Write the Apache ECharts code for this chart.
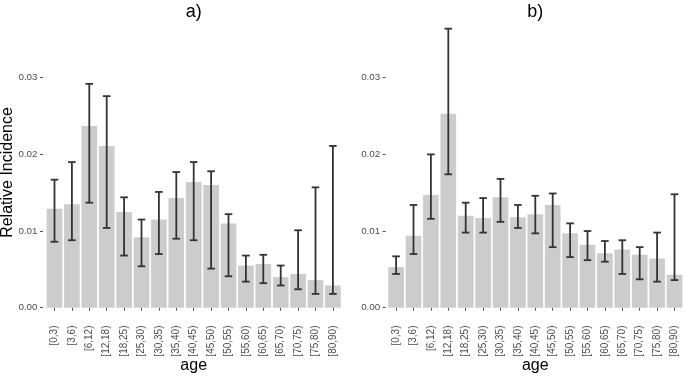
<!DOCTYPE html>
<html><head><meta charset="utf-8">
<script src="https://cdn.jsdelivr.net/npm/echarts@6/dist/echarts.min.js"></script>
<style>html,body{margin:0;padding:0;background:#fff}#c{width:685px;height:378px}</style>
</head><body><div id="c"></div>
<script>
const categories = ['[0,3)','[3,6)','[6,12)','[12,18)','[18,25)','[25,30)','[30,35)','[35,40)','[40,45)','[45,50)','[50,55)','[55,60)','[60,65)','[65,70)','[70,75)','[75,80)','[80,90)'];
const incidenceA = [0.0129,0.0135,0.0237,0.0211,0.0125,0.0092,0.0115,0.0143,0.0164,0.0160,0.0110,0.0055,0.0057,0.0040,0.0044,0.0036,0.0029];
const lowerA = [0.0086,0.0088,0.0137,0.0104,0.0068,0.0054,0.0070,0.0090,0.0088,0.0051,0.0041,0.0034,0.0032,0.0029,0.0024,0.0018,0.0018];
const upperA = [0.0167,0.0190,0.0292,0.0276,0.0144,0.0115,0.0151,0.0177,0.0190,0.0178,0.0122,0.0068,0.0069,0.0055,0.0101,0.0157,0.0211];
const incidenceB = [0.0053,0.0094,0.0147,0.0253,0.0120,0.0117,0.0144,0.0118,0.0122,0.0134,0.0097,0.0082,0.0071,0.0076,0.0069,0.0064,0.0043];
const lowerB = [0.0044,0.0070,0.0116,0.0174,0.0098,0.0098,0.0112,0.0104,0.0097,0.0079,0.0066,0.0062,0.0060,0.0044,0.0037,0.0034,0.0036];
const upperB = [0.0067,0.0134,0.0200,0.0364,0.0137,0.0143,0.0168,0.0134,0.0146,0.0149,0.0110,0.0100,0.0087,0.0088,0.0079,0.0098,0.0148];
const yTicks = [0, 0.01, 0.02, 0.03];
const panelTitles = ['a)', 'b)'];
const xTitle = 'age';
const yTitle = 'Relative Incidence';

const FONT = "'Liberation Sans', Arial, sans-serif";
const chart = echarts.init(document.getElementById('c'), null, {renderer: 'canvas'});

function errorItem(params, api) {
  const x = api.value(0);
  const lo = api.coord([x, api.value(1)]);
  const hi = api.coord([x, api.value(2)]);
  const half = 3.8;
  const style = {stroke: '#333333', lineWidth: 1.8};
  return {type: 'group', children: [
    {type: 'line', shape: {x1: hi[0], y1: hi[1], x2: lo[0], y2: lo[1]}, style: style},
    {type: 'line', shape: {x1: hi[0] - half, y1: hi[1], x2: hi[0] + half, y2: hi[1]}, style: style},
    {type: 'line', shape: {x1: lo[0] - half, y1: lo[1], x2: lo[0] + half, y2: lo[1]}, style: style}
  ]};
}

const grids = [
  {left: 45.8, top: 16.4, width: 295.8, height: 291.3, containLabel: false, outerBoundsMode: 'none'},
  {left: 387.4, top: 16.4, width: 295.8, height: 291.3, containLabel: false, outerBoundsMode: 'none'}
];
const yOffsets = [2.8, 1.7];

function xAxisFor(i) {
  return {
    type: 'category', gridIndex: i, data: categories, offset: 12.8,
    axisLine: {show: false},
    axisTick: {show: true, alignWithLabel: true, length: 3, lineStyle: {color: '#4d4d4d', width: 1}},
    axisLabel: {rotate: 90, margin: 5, fontSize: 10, color: '#4d4d4d', fontFamily: FONT, interval: 0}
  };
}
function yAxisFor(i) {
  return {
    type: 'value', gridIndex: i, min: 0, max: 0.038, offset: yOffsets[i],
    axisLine: {show: false},
    splitLine: {show: false},
    axisTick: {show: true, length: 3, customValues: yTicks, lineStyle: {color: '#4d4d4d', width: 1}},
    axisLabel: {customValues: yTicks, margin: 5.5, fontSize: 9.8, color: '#4d4d4d', fontFamily: FONT,
      formatter: v => Number(v).toFixed(2)}
  };
}

function barSeries(i, vals) {
  return {type: 'bar', xAxisIndex: i, yAxisIndex: i, data: vals, barWidth: '90%',
    itemStyle: {color: '#cccccc'}, silent: true};
}
function errSeries(i, lo, hi) {
  return {type: 'custom', xAxisIndex: i, yAxisIndex: i, renderItem: errorItem, clip: false,
    encode: {x: 0, y: [1, 2]}, silent: true, z: 5,
    data: categories.map((c, k) => [k, lo[k], hi[k]])};
}

function txt(x, y, s, size, rot) {
  const o = {type: 'text', x: x, y: y, style: {text: s, font: size + 'px ' + FONT, fill: '#000', textAlign: 'center', textVerticalAlign: 'middle'}};
  if (rot) o.rotation = rot;
  return o;
}

chart.setOption({
  animation: false,
  backgroundColor: '#ffffff',
  grid: grids,
  xAxis: [xAxisFor(0), xAxisFor(1)],
  yAxis: [yAxisFor(0), yAxisFor(1)],
  series: [
    barSeries(0, incidenceA), errSeries(0, lowerA, upperA),
    barSeries(1, incidenceB), errSeries(1, lowerB, upperB)
  ],
  graphic: [
    txt(193.7, 12.5, panelTitles[0], 18),
    txt(535.3, 12.5, panelTitles[1], 18),
    txt(193.7, 365.5, xTitle, 16),
    txt(535.3, 365.5, xTitle, 16),
    txt(7.7, 172.5, yTitle, 16, Math.PI / 2)
  ]
});
</script>
</body></html>
